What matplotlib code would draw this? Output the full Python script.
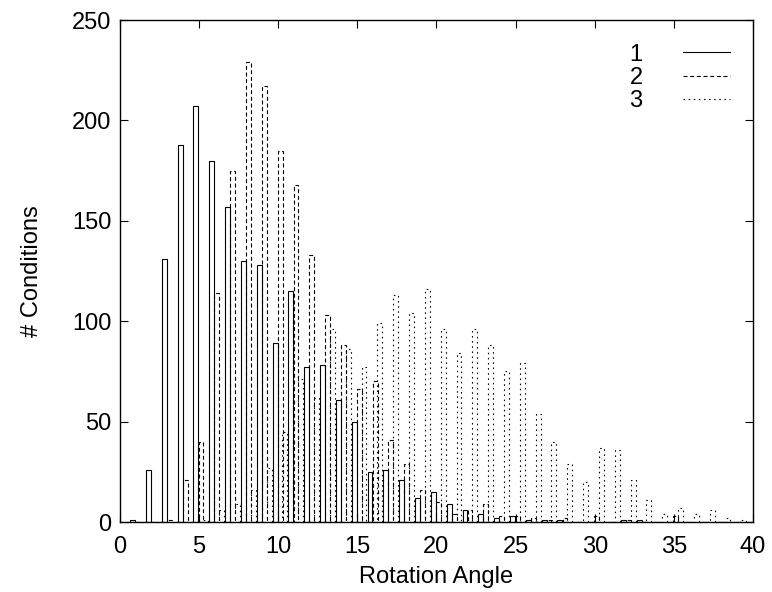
import numpy as np
import matplotlib
matplotlib.use('Agg')
import matplotlib.pyplot as plt
from matplotlib.lines import Line2D

plt.rcParams['font.family'] = ['Liberation Sans', 'DejaVu Sans']

# histogram bins (rotation angle) and counts for the three series
angles = np.arange(1, 41)
counts_1 = [1, 26, 131, 188, 207, 180, 157, 130, 128, 89,
            115, 77, 78, 61, 50, 25, 26, 21, 12, 15,
            9, 6, 4, 2, 3, 1, 1, 1, 0, 0,
            0, 1, 1, 0, 0, 0, 0, 0, 0, 0]
counts_2 = [0, 0, 1, 21, 40, 114, 175, 229, 217, 185,
            168, 133, 103, 88, 66, 70, 41, 29, 16, 10,
            4, 6, 9, 3, 3, 2, 1, 2, 0, 3,
            0, 1, 0, 0, 3, 0, 0, 0, 0, 0]
counts_3 = [0, 0, 0, 0, 1, 6, 9, 16, 27, 45,
            71, 62, 96, 86, 77, 99, 113, 104, 116, 96,
            84, 96, 88, 75, 79, 54, 40, 29, 20, 37,
            36, 21, 11, 4, 7, 4, 6, 2, 1, 0]
labels = ['1', '2', '3']

styles = ['-', (0, (3.6, 2.4)), (0, (1.4, 3.2))]
offsets = [-0.2, 0.12, 0.42]
width = 0.31
lw = 0.8
fs = 17

fig = plt.figure(figsize=(7.72, 5.92), dpi=100)
ax = fig.add_axes([0.1554, 0.1182, 0.82, 0.848])

for vals, ls, off in zip([counts_1, counts_2, counts_3], styles, offsets):
    ax.bar(angles + off, vals, width=width, fill=False, edgecolor='black',
           linewidth=lw, linestyle=ls, align='center')

ax.set_xlim(0, 40)
ax.set_ylim(0, 250)
ax.set_xticks(np.arange(0, 41, 5))
ax.set_yticks(np.arange(0, 251, 50))
ax.tick_params(direction='in', length=6, width=0.8, top=True, right=True,
               labelsize=fs)
ax.tick_params(axis='x', pad=10)
ax.tick_params(axis='y', pad=6)
for sp in ax.spines.values():
    sp.set_linewidth(1.0)

ax.set_xlabel('Rotation Angle', fontsize=fs, labelpad=6)
ax.set_ylabel('# Conditions', fontsize=fs, labelpad=21)

handles = [Line2D([], [], color='black', linewidth=lw, linestyle=ls) for ls in styles]
ax.legend(handles, labels, loc='upper right', bbox_to_anchor=(0.9637, 0.953),
          frameon=False, markerfirst=False, fontsize=fs, handlelength=2.0,
          handletextpad=1.7, labelspacing=0.05, borderpad=0, borderaxespad=0)

fig.savefig('out.png', dpi=100)
